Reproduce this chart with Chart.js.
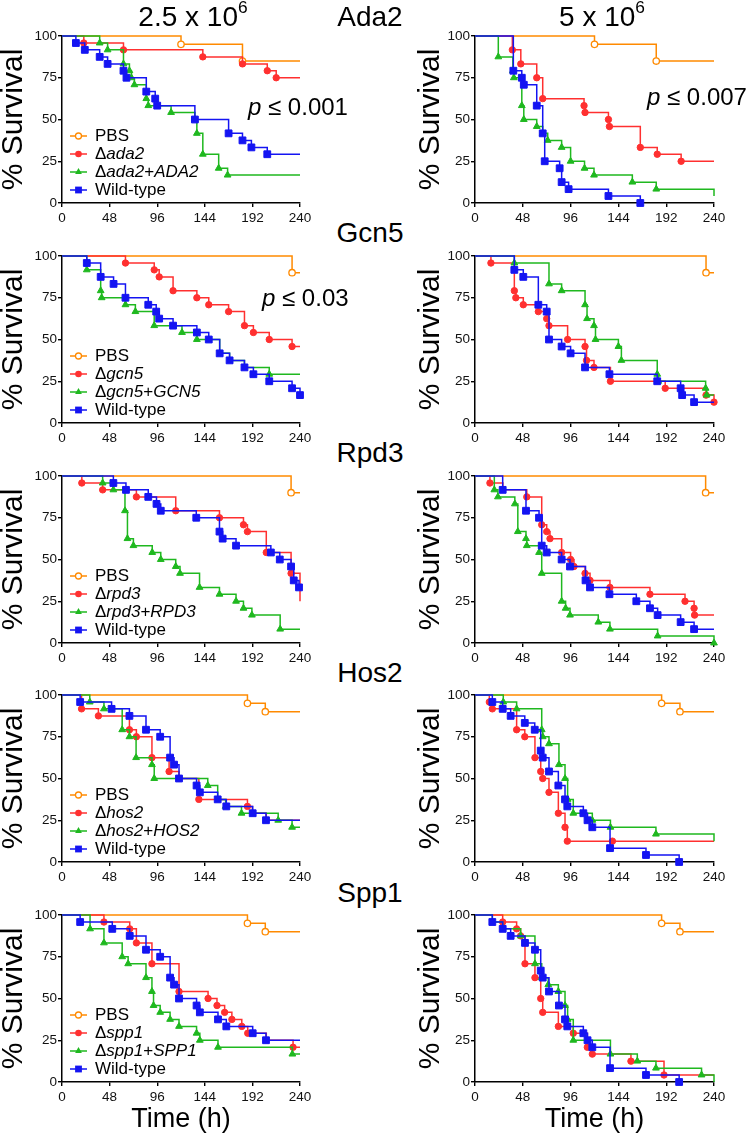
<!DOCTYPE html>
<html><head><meta charset="utf-8">
<script src="https://cdn.jsdelivr.net/npm/chart.js@4.4.1/dist/chart.umd.min.js"></script>
<style>
html,body{margin:0;padding:0;background:#fff;}
body{width:750px;height:1140px;position:relative;overflow:hidden;font-family:"Liberation Sans",Arial,Helvetica,sans-serif;color:#000;}
canvas{position:absolute;}
.t{position:absolute;line-height:1;white-space:nowrap;transform:translate(-50%,-50%);}
.p{position:absolute;line-height:1;white-space:nowrap;transform:translateY(-50%);font-size:24px;}
.lg{position:absolute;left:70px;height:20px;display:flex;align-items:center;font-size:17px;line-height:1;white-space:nowrap;}
.lg svg{margin-right:8px;flex:none;}
sup{font-size:62%;vertical-align:0;position:relative;top:-0.75em;}
</style></head><body>
<script>
// ---------- data ----------
const genes = ['Ada2','Gcn5','Rpd3','Hos2','Spp1'];
const geneLower = ['ada2','gcn5','rpd3','hos2','spp1'];
const doseBase = ['2.5 x 10','5 x 10'];
const doseExp = ['6','6'];
const xTicks = [0,48,96,144,192,240];
const yTicks = [0,25,50,75,100];
const pTexts = ['0.001','0.007','0.03'];

// each entry: [time (h), % survival] ; optional third value 0 = no symbol
const ada2_lo_pbs = [[120,95],[182,85]];
const ada2_lo_mut = [[22,95.8],[62,91.7],[142,87.5],[182,83.3],[207,79.2],[216,75]];
const ada2_lo_comp = [[38,95.8],[46,91.7],[62,83.3],[68,79.2],[70,75],[73,70.8],[85,62.5],[87,58.3],[110,54.2],[134,50],[136,41.7],[142,29.2],[158,20.8],[167,16.7]];
const ada2_lo_wt = [[14,95.8],[23,91.7],[38,87.5],[46,83.3],[62,79.2],[65,75],[85,66.7],[94,62.5],[96,58.3],[134,50],[168,41.7],[182,37.5],[191,33.3],[207,29.2]];

const ada2_hi_pbs = [[120,95],[182,85]];
const ada2_hi_mut = [[37.5,91.7],[46,83.3],[62,75],[68,62.5],[109.5,58.3],[110.5,54.2],[134,50],[135,45.8],[166,33.3],[183,29.2],[207,25]];
const ada2_hi_comp = [[23.4,87.5],[38,79.2],[39,75],[47,58.3],[49,50],[62,45.8],[68,41.7],[73,37.5],[87,33.3],[96,25],[110,20.8],[119.5,16.7],[158,12.5],[182,8.3],[240,4.2,0]];
const ada2_hi_wt = [[38.5,79.2],[47,75],[49,70.8],[62,58.3],[68,41.7],[70,25],[85,20.8],[87,12.5],[94,8.3],[134,4.2],[166,0]];

const gcn5_lo_pbs = [[232,90]];
const gcn5_lo_mut = [[64,95.8],[93,91.7],[98,87.5],[112,79.2],[136,75],[148,70.8],[168,66.7],[184,58.3],[193,54.2],[209,50],[232,45.8]];
const gcn5_lo_comp = [[25,91.7],[39,79.2],[40,75],[64,70.8],[74,66.7],[93,58.3],[121,54.2],[136,50],[159,41.7,0],[169,37.5,0],[184,33.3,0],[209,29.2]];
const gcn5_lo_wt = [[25,95.8],[39,87.5],[52,83.3],[64,75],[87,70.8],[95,66.7],[98,62.5],[112,58.3],[136,54.2],[148,50],[159,41.7],[169,37.5],[184,33.3],[193,29.2],[209,25],[232,20.8],[240,16.7]];

const gcn5_hi_pbs = [[232,90]];
const gcn5_hi_mut = [[16,95.8],[39.5,79.2],[41,75],[48.5,70.8],[63.6,66.7],[72,62.5],[74.3,58.3],[93,50],[110.5,45.8],[112,37.5],[119.5,33.3],[136,25],[191,20.8],[232,16.7],[240,12.5]];
const gcn5_hi_comp = [[39.5,95.8],[74.3,83.3],[87,79.2],[110.5,70.8],[112.5,62.5],[119.5,58.3],[121,50],[144,45.8],[147,37.5],[183,29.2],[184,25],[231.6,20.8],[232.6,16.7]];
const gcn5_hi_wt = [[39.5,91.7],[48.5,87.5],[63.6,70.8],[72,66.7],[74.3,50],[87,45.8],[96,41.7],[110.5,33.3],[135,29.2],[183,25],[206.5,20.8],[208,16.7],[220,12.5]];

const rpd3_lo_pbs = [[231,90]];
const rpd3_lo_mut = [[20,95.8],[41,91.7],[75,87.5],[114.7,79.2],[158.8,75],[183,70.8],[187,66.7],[206,54.2],[231,41.7],[240,25,0]];
const rpd3_lo_comp = [[41,95.8],[51.8,91.7],[63.5,79.2],[66,62.5],[72,58.3],[91,54.2],[99.6,50],[114.7,45.8],[119,41.7],[138.7,33.3],[158.8,29.2],[175.5,25],[183,20.8],[191.5,16.7],[220,8.3]];
const rpd3_lo_wt = [[51.8,95.8],[64.5,91.7],[87,87.5],[95.3,83.3],[99.6,79.2],[135.4,75],[158.8,66.7],[162,62.5],[175.5,58.3],[210.6,54.2],[219.6,50],[231,45.8],[233.7,37.5],[239,33.3]];

const rpd3_hi_pbs = [[231.6,90]];
const rpd3_hi_mut = [[15,95.8],[28,91.7,0],[52,87.5],[67,70.8],[72,66.7],[75.3,62.5],[87,54.2],[96,50],[99.4,45.8],[110.5,41.7],[115.5,37.5],[135.5,33.3],[175.7,29.2],[210.9,25],[220,20.8],[220.5,16.7]];
const rpd3_hi_comp = [[19.4,91.7],[23,87.5],[40,83.3],[43,66.7],[51.2,62.5],[52,58.3],[64.3,54.2],[67,41.7],[87,25],[91,20.8],[95.4,16.7],[123.8,12.5],[135.5,8.3],[183.4,4.2],[240,0]];
const rpd3_hi_wt = [[27.8,91.7],[51.2,79.2],[64.3,75],[67,58.3],[72,54.2],[87,50],[95.4,45.8],[111,37.5],[115.5,33.3],[135,29.2],[162,25],[175.7,20.8],[183.4,16.7],[206.5,12.5],[220,8.3]];

const hos2_lo_pbs = [[187,95],[205,90]];
const hos2_lo_mut = [[19.7,91.7],[36.7,87.5],[68,79.2],[75,75],[90.7,62.5],[108,54.2],[118,50],[138,37.5],[187,33.3],[192,29.2,0],[206,25,0]];
const hos2_lo_comp = [[28,95.8],[42.3,91.7],[60.7,79.2],[68,75],[74.7,62.5],[90.7,58.3],[93,50],[147,45.8],[157,37.5,0],[165,33.3],[181,29.2],[218,25],[232,20.8]];
const hos2_lo_wt = [[18.3,95.8],[50,91.7],[68,87.5],[84.7,79.2],[99,75],[109,62.5],[113,58.3],[118,50],[135.7,45.8],[139,41.7],[157,37.5],[165.7,33.3],[192.3,29.2],[205.7,25]];

const hos2_hi_pbs = [[187.4,95],[205.8,90]];
const hos2_hi_mut = [[14.4,95.8],[17.4,91.7],[41.8,79.2],[50,75],[60.2,62.5],[66,54.2],[68,50],[74.3,41.7],[83.7,29.2],[90.4,20.8],[92.7,12.5],[138,12.5]];
const hos2_hi_comp = [[28.4,95.8],[41.8,91.7],[67,79.2],[68,75],[74.3,70.8],[84.3,58.3],[90.4,50],[93,37.5],[98.7,29.2],[117.8,25],[136,20.8],[181.7,16.7],[240,12.5,0]];
const hos2_hi_wt = [[17.4,95.8],[27.8,91.7],[35.8,87.5],[50,83.3],[60,79.2],[66,66.7],[68,62.5],[74.3,54.2],[83.7,45.8],[90.4,37.5],[92.7,33.3],[108.8,29.2],[113,25],[117.8,20.8],[135.6,8.3],[171.7,4.2],[205,0]];

const spp1_lo_pbs = [[187,95],[205,90]];
const spp1_lo_mut = [[42.3,95.8],[68.3,91.7],[75,83.3],[90.7,70.8],[118,54.2],[147.3,50],[156.3,45.8],[164,41.7],[171.3,37.5],[181.3,33.3],[187.3,29.2],[206,25,0],[233,20.8]];
const spp1_lo_comp = [[28.3,91.7],[42.3,83.3],[60.7,75],[66.7,70.8],[84.7,62.5],[90.7,54.2],[92.3,45.8],[99,41.7],[109,37.5],[118,33.3],[135.7,29.2],[139,25],[157.3,20.8],[232.3,16.7]];
const spp1_lo_wt = [[18.3,95.8],[50.7,91.7],[68.3,87.5],[84.7,79.2],[99,75],[109,62.5],[113,58.3],[118,50],[135.7,45.8],[139,41.7],[157.3,37.5],[165.7,33.3],[192.3,29.2],[205.7,25]];

const spp1_hi_pbs = [[187.4,95],[205.8,90]];
const spp1_hi_mut = [[27.8,95.8],[41.8,91.7],[45.8,87.5],[50.2,70.8],[60.2,62.5],[66,50],[68,41.7],[83.7,33.3],[98.7,29.2],[112.8,20.8],[117.8,16.7],[156.6,12.5],[189.8,4.2]];
const spp1_hi_comp = [[17.4,95.8,0],[27.8,91.7,0],[45.8,87.5],[60.2,70.8],[67,62.5],[73.6,58.3],[83.7,54.2],[90.4,45.8],[93,37.5],[98.7,25],[136,16.7],[163,12.5],[181.7,8.3],[227.5,4.2],[240,0,0]];
const spp1_hi_wt = [[17.4,95.8],[27.8,91.7],[35.8,87.5],[50.2,83.3],[60.2,79.2],[66,66.7],[68,62.5],[74.3,54.2],[84.3,45.8],[90.4,37.5],[92.7,33.3],[108.8,29.2],[113,25],[117.8,20.8],[135.6,8.3],[171.7,4.2],[205,0]];

const panelData = [
  [[ada2_lo_pbs,ada2_lo_mut,ada2_lo_comp,ada2_lo_wt],[ada2_hi_pbs,ada2_hi_mut,ada2_hi_comp,ada2_hi_wt]],
  [[gcn5_lo_pbs,gcn5_lo_mut,gcn5_lo_comp,gcn5_lo_wt],[gcn5_hi_pbs,gcn5_hi_mut,gcn5_hi_comp,gcn5_hi_wt]],
  [[rpd3_lo_pbs,rpd3_lo_mut,rpd3_lo_comp,rpd3_lo_wt],[rpd3_hi_pbs,rpd3_hi_mut,rpd3_hi_comp,rpd3_hi_wt]],
  [[hos2_lo_pbs,hos2_lo_mut,hos2_lo_comp,hos2_lo_wt],[hos2_hi_pbs,hos2_hi_mut,hos2_hi_comp,hos2_hi_wt]],
  [[spp1_lo_pbs,spp1_lo_mut,spp1_lo_comp,spp1_lo_wt],[spp1_hi_pbs,spp1_hi_mut,spp1_hi_comp,spp1_hi_wt]]
];

// ---------- styles / layout ----------
const FONT = "'Liberation Sans', Arial, Helvetica, sans-serif";
Chart.defaults.font.family = FONT;
const ORANGE = '#FF8A00', RED = '#FF3030', GREEN = '#1FB81F', BLUE = '#1414F2';
const styles = [
  {color:ORANGE, fill:'#ffffff', ps:'circle', r:3.2, bw:1.3, order:3},
  {color:RED, fill:RED, ps:'circle', r:3.2, bw:1, order:2},
  {color:GREEN, fill:GREEN, ps:'triangle', r:3.9, bw:1, order:1},
  {color:BLUE, fill:BLUE, ps:'rect', r:4.8, bw:1, order:0}
];
const plotTop = [36,256,476,695,915];
const plotH = 167;
const canvasLeft = [0,413];
const padRight = [30,29];
const canvasW = 330;
const yAxisW = 62;
const padTop = 12;

function labelText(k, g) {
  if (k === 0) return 'PBS';
  if (k === 1) return '\u0394' + g;
  if (k === 2) return '\u0394' + g + '+' + g.toUpperCase();
  return 'Wild-type';
}
function labelHTML(k, g) {
  if (k === 0) return 'PBS';
  if (k === 1) return '\u0394<i>' + g + '</i>';
  if (k === 2) return '\u0394<i>' + g + '</i>+<i>' + g.toUpperCase() + '</i>';
  return 'Wild-type';
}
function glyph(k) {
  const s = styles[k];
  let m = '';
  if (k === 0) m = `<circle cx="8.5" cy="6" r="3" fill="#fff" stroke="${s.color}" stroke-width="1.3"/>`;
  else if (k === 1) m = `<circle cx="8.5" cy="6" r="3.3" fill="${s.color}"/>`;
  else if (k === 2) m = `<polygon points="8.5,2.1 11.9,8 5.1,8" fill="${s.color}"/>`;
  else m = `<rect x="5.1" y="2.6" width="6.8" height="6.8" fill="${s.color}"/>`;
  return `<svg width="17" height="12" viewBox="0 0 17 12"><line x1="0" y1="6" x2="17" y2="6" stroke="${s.color}" stroke-width="1.5"/>${m}</svg>`;
}
function addText(cls, x, y, size, html) {
  const d = document.createElement('div');
  d.className = cls;
  d.style.left = x + 'px'; d.style.top = y + 'px';
  if (size) d.style.fontSize = size + 'px';
  d.innerHTML = html;
  document.body.appendChild(d);
}

function makeChart(row, col) {
  const xh = row === 4 ? 55 : 24;
  const h = padTop + plotH + xh;
  const cv = document.createElement('canvas');
  cv.width = canvasW; cv.height = h;
  cv.style.left = canvasLeft[col] + 'px';
  cv.style.top = (plotTop[row] - padTop) + 'px';
  cv.style.width = canvasW + 'px'; cv.style.height = h + 'px';
  document.body.appendChild(cv);
  const g = geneLower[row];
  const datasets = panelData[row][col].map((events, k) => {
    const st = styles[k];
    const pts = [{x:0, y:100}];
    const rad = [0];
    events.forEach(e => { pts.push({x:e[0], y:e[1]}); rad.push(e[2] === 0 ? 0 : st.r); });
    const last = events[events.length - 1];
    if (last[0] < 240 && last[1] > 0) { pts.push({x:240, y:last[1]}); rad.push(0); }
    return {
      label: labelText(k, g), data: pts, stepped: 'before', fill: false,
      borderColor: st.color, borderWidth: 1.5,
      pointStyle: st.ps, pointRadius: rad, pointHoverRadius: rad,
      pointBackgroundColor: st.fill, pointBorderColor: st.color, pointBorderWidth: st.bw,
      clip: false, order: st.order
    };
  });
  const axisCommon = {
    grid: {display:true, drawOnChartArea:false, drawTicks:true, tickLength:4, color:'#000', lineWidth:1.4},
    border: {display:true, color:'#000', width:1.5}
  };
  new Chart(cv, {
    type: 'line',
    data: {datasets},
    options: {
      responsive: false, animation: false, devicePixelRatio: 1, events: [],
      layout: {padding: {left:0, top:padTop, right:padRight[col], bottom:0}},
      plugins: {legend: {display:false}, tooltip: {enabled:false}},
      scales: {
        x: Object.assign({
          type: 'linear', min: 0, max: 240,
          afterBuildTicks: s => { s.ticks = xTicks.map(v => ({value: v})); },
          afterFit: s => { s.height = xh; },
          ticks: {color:'#111', font:{size:13.5}, padding:3, maxRotation:0, autoSkip:false},
          title: row === 4 ? {display:true, text:'Time (h)', color:'#000', font:{size:27, lineHeight:1}, padding:{top:0, bottom:3.5}} : {display:false}
        }, axisCommon),
        y: Object.assign({
          type: 'linear', min: 0, max: 100,
          afterBuildTicks: s => { s.ticks = yTicks.map(v => ({value: v})); },
          afterFit: s => { s.width = yAxisW; },
          ticks: {color:'#111', font:{size:13.5}, padding:1},
          title: {display:true, text:'% Survival', color:'#000', font:{size:30, lineHeight:1}, padding:{top: col === 0 ? -1 : 3, bottom:0}}
        }, axisCommon)
      }
    }
  });
  // legend (left column only)
  if (col === 0) {
    const bottom = plotTop[row] + plotH;
    for (let k = 0; k < 4; k++) {
      const d = document.createElement('div');
      d.className = 'lg';
      d.style.top = (bottom - 67.5 + 18.1 * k - 10) + 'px';
      d.innerHTML = glyph(k) + '<span>' + labelHTML(k, g) + '</span>';
      document.body.appendChild(d);
    }
  }
}

for (let r = 0; r < 5; r++) for (let c = 0; c < 2; c++) makeChart(r, c);

// headers
addText('t', 193, 17, 28, doseBase[0] + '<sup>' + doseExp[0] + '</sup>');
addText('t', 602, 17, 28, doseBase[1] + '<sup>' + doseExp[1] + '</sup>');
const rowTitleY = [17, 233, 453, 673, 893];
genes.forEach((gname, i) => addText('t', 370, rowTitleY[i], 28, gname));
// p values
addText('p', 248, 107, 0, '<i>p</i> \u2264 ' + pTexts[0]);
addText('p', 647, 97, 0, '<i>p</i> \u2264 ' + pTexts[1]);
addText('p', 262, 298, 0, '<i>p</i> \u2264 ' + pTexts[2]);
</script>
</body></html>
